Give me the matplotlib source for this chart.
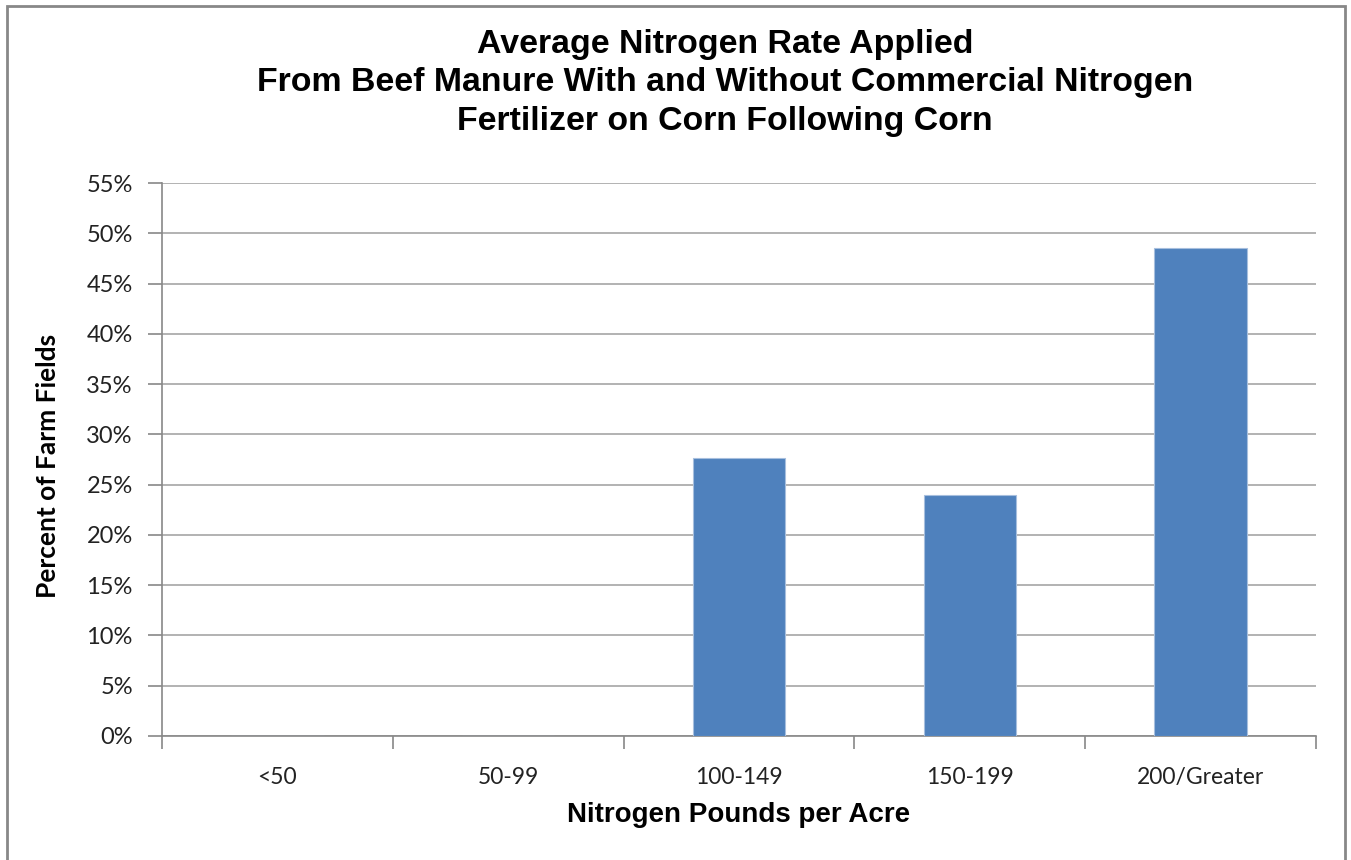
import matplotlib.pyplot as plt
from matplotlib.patches import Rectangle
from matplotlib.ticker import FuncFormatter

# categories and values
categories = ["<50", "50-99", "100-149", "150-199", "200/Greater"]
percents = [0, 0, 27.6, 24.0, 48.5]
y_ticks = list(range(0, 60, 5))

title = ("Average Nitrogen Rate Applied\n"
         "From Beef Manure With and Without Commercial Nitrogen\n"
         "Fertilizer on Corn Following Corn")

fig = plt.figure(figsize=(13.51, 8.60), dpi=100)
ax = fig.add_axes([162/1351, 1 - 736/860, (1316 - 162)/1351, (736 - 183)/860])

# outer chart frame
fig.patches.append(Rectangle((7/1351, -0.05), (1345 - 7)/1351, 1.05 - 6/860,
                             transform=fig.transFigure, fill=False,
                             edgecolor="#888888", linewidth=2))

x = list(range(len(categories)))
ax.bar(x, percents, width=0.40, color="#4F81BD", edgecolor="#A7BFDE", linewidth=0.8, zorder=3)

ax.set_xlim(-0.5, len(categories) - 0.5)
ax.set_ylim(0, 55)
ax.set_yticks(y_ticks)
ax.yaxis.set_major_formatter(FuncFormatter(lambda v, p: f"{v:.0f}%"))
ax.grid(axis="y", color="#A6A6A6", linewidth=1.2, zorder=0)

# category labels sit between the boundary ticks
ax.set_xticks([i + 0.5 for i in range(-1, len(categories))])
ax.set_xticklabels([])
ax.set_xticks(x, minor=True)
ax.set_xticklabels(categories, minor=True, fontsize=16.5, family="Lato", color="#222222")
ax.tick_params(axis="x", which="minor", length=0, pad=22)
ax.tick_params(axis="x", which="major", length=9, color="#888888", width=1.2)
ax.tick_params(axis="y", length=10, color="#888888", width=1.2, pad=11, labelsize=17,
               labelcolor="#222222")
for lab in ax.get_yticklabels():
    lab.set_family("Lato")

for s in ["top", "right"]:
    ax.spines[s].set_visible(False)
for s in ["left", "bottom"]:
    ax.spines[s].set_color("#888888")
    ax.spines[s].set_linewidth(1.2)

ax.set_xlabel("Nitrogen Pounds per Acre", fontsize=20, fontweight="bold",
              family="Liberation Sans", va="center")
ax.xaxis.set_label_coords(0.5, (736 - 815)/553)
ax.set_ylabel("Percent of Farm Fields", fontsize=19, fontweight="bold",
              family="Lato", va="center")
ax.yaxis.set_label_coords((48 - 162)/1154, (736 - 466)/553)

fig.text(725/1351, 1 - 83/860, title, ha="center", va="center", fontsize=24.4,
         fontweight="bold", family="Liberation Sans", linespacing=1.33)

fig.savefig("out.png", dpi=100)
